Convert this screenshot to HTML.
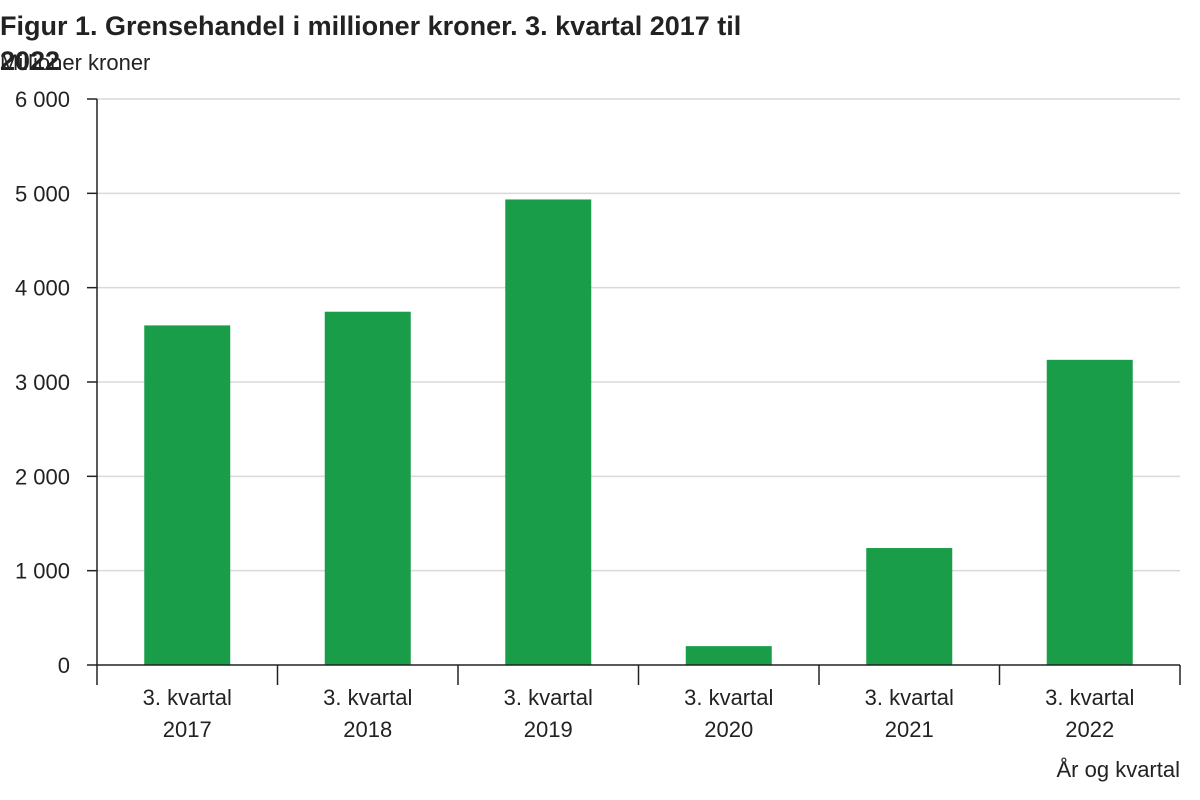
<!DOCTYPE html>
<html><head><meta charset="utf-8"><style>
body{margin:0;background:#fff;}
svg{display:block;font-family:"Liberation Sans",Arial,sans-serif;}
</style></head><body>
<svg id="chart" width="1200" height="800">
<text x="0" y="35" font-size="27" font-weight="bold" fill="#222">Figur 1. Grensehandel i millioner kroner. 3. kvartal 2017 til</text>
<text x="0" y="70" font-size="27" font-weight="bold" fill="#222">2022</text>
<text x="0" y="70" font-size="22" fill="#222">Millioner kroner</text>
<g id="grid"></g><g id="bars"></g><g id="axes"></g>
<text x="1180" y="777" font-size="22" fill="#222" text-anchor="end">År og kvartal</text>
</svg>
<script>
const categories=[["3. kvartal","2017"],["3. kvartal","2018"],["3. kvartal","2019"],["3. kvartal","2020"],["3. kvartal","2021"],["3. kvartal","2022"]];
const values=[3600,3745,4935,200,1240,3235];
const yTicks=[0,1000,2000,3000,4000,5000,6000];
const yTickLabels=["0","1 000","2 000","3 000","4 000","5 000","6 000"];
const NS="http://www.w3.org/2000/svg";
const x0=97,x1=1180,y0=665,yTop=99,yMax=6000;
const y=v=>y0-(v/yMax)*(y0-yTop);
const bw=(x1-x0)/categories.length;
const xc=i=>x0+bw*(i+0.5);
function mk(t,a,p){const e=document.createElementNS(NS,t);for(const k in a)e.setAttribute(k,a[k]);p.appendChild(e);return e;}
const grid=document.getElementById('grid'),bars=document.getElementById('bars'),axes=document.getElementById('axes');
yTicks.forEach((v,i)=>{
 if(v>0){const l=mk('line',{x1:x0,x2:x1,y1:y(v),y2:y(v),stroke:'#d9d9d9','stroke-width':1.5},grid);
 
 }
 const tk=mk('line',{x1:x0-10,x2:x0,y1:y(v),y2:y(v),stroke:'#222','stroke-width':1.5},axes);
 
 
 const t=mk('text',{x:x0-27,y:y(v)+8,'font-size':22,fill:'#222','text-anchor':'end'},axes);
 t.textContent=yTickLabels[i];
 
 
});
values.forEach((v,i)=>{
 const r=mk('rect',{x:xc(i)-43,y:y(v),width:86,height:y0-y(v),fill:'#1a9d49'},bars);
 
 
 const t1=mk('text',{x:xc(i),y:705,'font-size':22,fill:'#222','text-anchor':'middle'},axes);
 t1.textContent=categories[i][0];
 
 
 const t2=mk('text',{x:xc(i),y:737,'font-size':22,fill:'#222','text-anchor':'middle'},axes);
 t2.textContent=categories[i][1];
 
 
});
for(let i=0;i<=categories.length;i++){
 const l=mk('line',{x1:x0+bw*i,x2:x0+bw*i,y1:y0,y2:685,stroke:'#222','stroke-width':1.5},axes);
 
 
}
const ya=mk('line',{x1:x0,x2:x0,y1:yTop,y2:y0,stroke:'#222','stroke-width':1.5},axes);


const xa=mk('line',{x1:x0,x2:x1,y1:y0,y2:y0,stroke:'#222','stroke-width':1.5},axes);


</script>
</body></html>
